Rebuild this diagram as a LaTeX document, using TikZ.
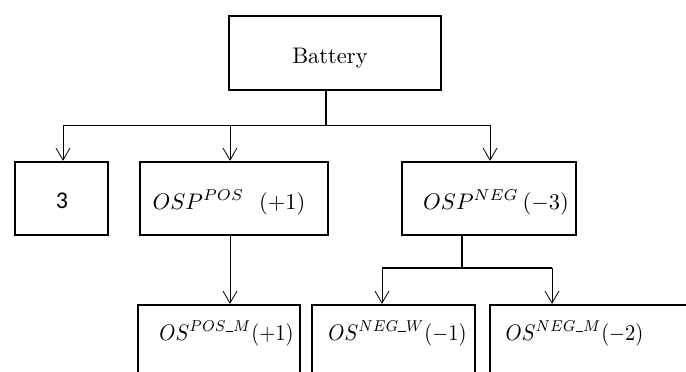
\documentclass[tikz,border=0pt]{standalone}
\usepackage{graphicx}
\usepackage{fontspec}
\newfontfamily\carl{Carlito}
\usetikzlibrary{arrows.meta}
% #1 horizontal offset of the centre, #2 baseline below node centre, #3 text
\newcommand{\tx}[3]{\hspace*{#1}\hspace*{#1}\raisebox{-#2}[0pt][0pt]{\scalebox{2.25}{#3}}}
\newcommand{\txb}[3]{\hspace*{#1}\hspace*{#1}\raisebox{-#2}[0pt][0pt]{\scalebox{2.05}[2.25]{#3}}}
\newcommand{\us}{\rule[-0.2pt]{3.6pt}{0.45pt}}
\begin{document}
\begin{tikzpicture}[x=1pt,y=-1pt,
  box/.style={draw,line width=2.3pt,minimum height=73pt,inner sep=0pt},
  conn/.style={line width=0.8pt,-{Straight Barb[length=12pt,width=14pt,line width=0.8pt]}},
  trunk/.style={line width=1.6pt}]
\useasboundingbox (0,0) rectangle (686,372);
\clip (0,0) rectangle (686,372);
\node[box,minimum width=212pt,minimum height=74pt] (bat) at (335,53) {\tx{-5pt}{10pt}{Battery}};
\node[box,minimum width=93pt] (n3) at (61.5,198.5) {\hspace*{1pt}\raisebox{-9.5pt}[0pt][0pt]{\carl\fontsize{24}{28}\selectfont 3}};
\node[box,minimum width=188pt] (pos) at (234,198.5) {\tx{-5pt}{10.5pt}{$OSP^{POS}$\ \ (+1)}};
\node[box,minimum width=174pt] (neg) at (489,198.5) {\tx{7pt}{10.5pt}{$OSP^{NEG}\,(-3)$}};
\node[box,minimum width=162pt] (posm) at (219,341.5) {\txb{7.5pt}{-1.5pt}{$OS^{POS\us M}(+1)$}};
\node[box,minimum width=163pt] (negw) at (393.5,341.5) {\txb{4pt}{-1.5pt}{$OS^{NEG\us W}(-1)$}};
\node[box,minimum width=200pt] (negm) at (590,341.5) {\txb{-15.5pt}{-1.5pt}{$OS^{NEG\us M}(-2)$}};
% battery branching
\coordinate (j1) at (326,125);
\coordinate (a3) at (63,125);
\coordinate (apos) at (230,125);
\coordinate (aneg) at (490,125);
\draw[trunk] (bat.south -| j1) -- (j1);
\draw[line width=0.8pt] (a3) -- (aneg);
\draw[conn] (a3) -- (a3 |- n3.north);
\draw[conn] (apos) -- (apos |- pos.north);
\draw[conn] (aneg) -- (aneg |- neg.north);
% pos to posm
\draw[conn] (apos |- pos.south) -- (apos |- posm.north);
% neg branching
\coordinate (j2) at (462,268);
\coordinate (aw) at (382,268);
\coordinate (am) at (552,268);
\draw[trunk] (neg.south -| j2) -- (j2);
\draw[trunk] (aw) -- (am);
\draw[conn] (aw) -- (aw |- negw.north);
\draw[conn] (am) -- (am |- negm.north);
\end{tikzpicture}
\end{document}
